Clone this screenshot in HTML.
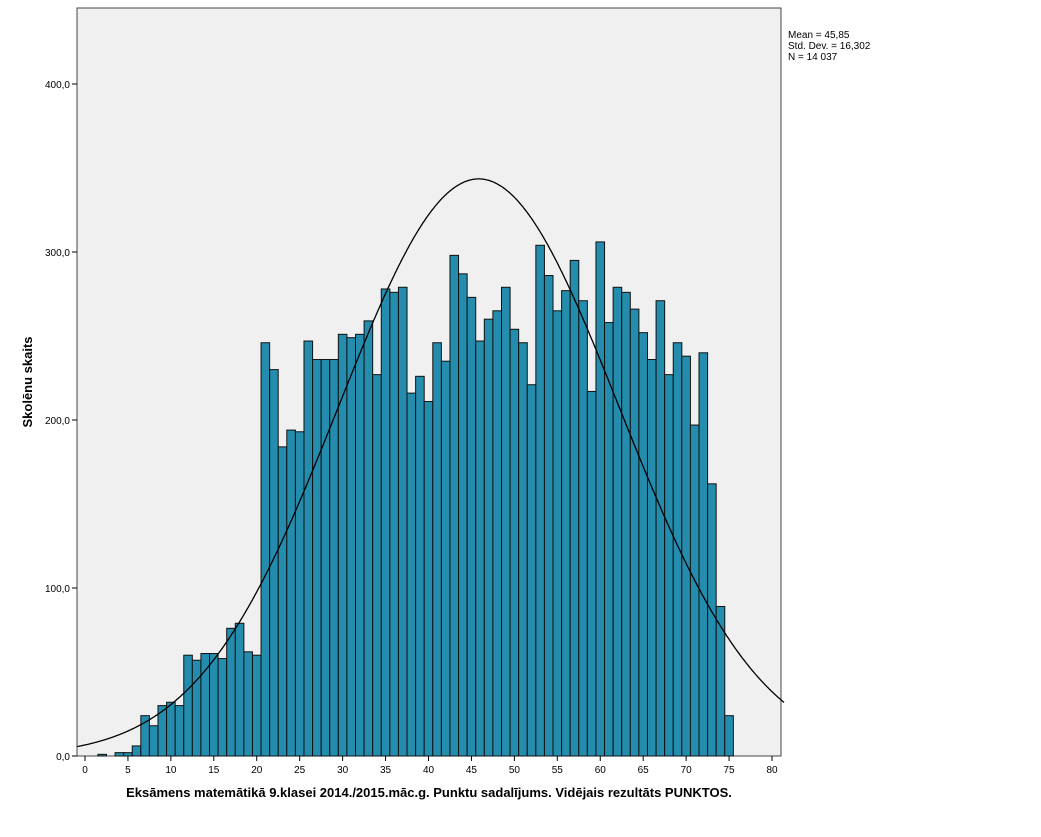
<!DOCTYPE html>
<html><head><meta charset="utf-8"><style>
body{margin:0;background:#fff;width:1041px;height:832px;overflow:hidden;font-family:"Liberation Sans",sans-serif}
</style></head><body>
<svg id="chart" width="1041" height="832" xmlns="http://www.w3.org/2000/svg" font-family="Liberation Sans, sans-serif">
<rect x="77" y="8" width="704" height="748" fill="#f0f0f0" stroke="#444" stroke-width="1"/>
<g id="bars"></g>
<path id="curve" fill="none" stroke="#000" stroke-width="1.3"/>
<g id="axes"></g>
<text x="788" y="38" font-size="10">Mean = 45,85</text>
<text x="788" y="49" font-size="10">Std. Dev. = 16,302</text>
<text x="788" y="60" font-size="10">N = 14 037</text>
<text transform="translate(32,382) rotate(-90)" text-anchor="middle" font-size="13" font-weight="bold">Skolēnu skaits</text>
<text x="429" y="797" text-anchor="middle" font-size="13" font-weight="bold">Eksāmens matemātikā 9.klasei 2014./2015.māc.g. Punktu sadalījums. Vidējais rezultāts PUNKTOS.</text>
</svg>
<script>
const scores=[0,1,2,3,4,5,6,7,8,9,10,11,12,13,14,15,16,17,18,19,20,21,22,23,24,25,26,27,28,29,30,31,32,33,34,35,36,37,38,39,40,41,42,43,44,45,46,47,48,49,50,51,52,53,54,55,56,57,58,59,60,61,62,63,64,65,66,67,68,69,70,71,72,73,74,75];
const counts=[0,0,1,0,2,2,6,24,18,30,32,30,60,57,61,61,58,76,79,62,60,246,230,184,194,193,247,236,236,236,251,249,251,259,227,278,276,279,216,226,211,246,235,298,287,273,247,260,265,279,254,246,221,304,286,265,277,295,271,217,306,258,279,276,266,252,236,271,227,246,238,197,240,162,89,24];
const xTicks=[0,5,10,15,20,25,30,35,40,45,50,55,60,65,70,75,80];
const yTicks=[0,100,200,300,400];
const yTickLabels=["0,0","100,0","200,0","300,0","400,0"];
const mean=45.85, sd=16.302, N=14037;
const ns="http://www.w3.org/2000/svg";
const X=v=>85+v*8.5875, Y=v=>756-v*1.68;
const bw=8.5875;
const bars=document.getElementById('bars');
scores.forEach((s,i)=>{if(!counts[i])return;
 const r=document.createElementNS(ns,'rect');
 
 
 r.setAttribute('x',X(s)-bw/2);r.setAttribute('y',Y(counts[i]));
 r.setAttribute('width',bw);r.setAttribute('height',Y(0)-Y(counts[i]));
 r.setAttribute('fill','#248dae');r.setAttribute('stroke','#111');r.setAttribute('stroke-width','1');
 bars.appendChild(r);});
let d='';
for(let x=-0.9;x<=81.4;x+=0.1){const v=N/(sd*Math.sqrt(2*Math.PI))*Math.exp(-0.5*((x-mean)/sd)**2);d+=(d?'L':'M')+X(x).toFixed(1)+','+Y(v).toFixed(1);}
document.getElementById('curve').setAttribute('d',d);
const ax=document.getElementById('axes');
function add(tag,attrs,txt){const e=document.createElementNS(ns,tag);for(const k in attrs)e.setAttribute(k,attrs[k]);if(txt!==undefined)e.textContent=txt;ax.appendChild(e);return e;}
xTicks.forEach(t=>{
 const l=add('line',{x1:X(t),x2:X(t),y1:756,y2:761,stroke:'#000'});
 
 
 const tx=add('text',{x:X(t),y:773,'text-anchor':'middle','font-size':10},String(t));
 
 });
yTicks.forEach((t,i)=>{
 const l=add('line',{x1:72,x2:77,y1:Y(t),y2:Y(t),stroke:'#000'});
 
 
 const tx=add('text',{x:70,y:Y(t)+4,'text-anchor':'end','font-size':10},yTickLabels[i]);
 
 });
</script>
</body></html>
